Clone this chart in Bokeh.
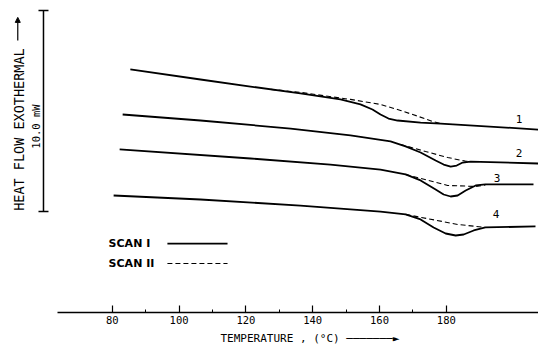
from bokeh.plotting import figure
from bokeh.models import (Range1d, FixedTicker, Whisker, TeeHead, Arrow, NormalHead,
                          Title, ColumnDataSource)
from bokeh.core.properties import value
from bokeh.embed import file_html
from bokeh.resources import INLINE

# ---------------- data ----------------
TEMP_TICKS = [80, 100, 120, 140, 160, 180]
TEMP_MINOR = [90, 110, 130, 150, 170]

# heat flow in mW (offset scale; a 10.0 mW bar is shown at left)
# curve 1
c1_scan1_t = [85.4, 106.4, 121.4, 136.3, 148.3, 154.3, 157.9, 160.3, 162.7, 165.4, 172.3, 178.3, 207.6]
c1_scan1_h = [12.09, 11.59, 11.24, 10.90, 10.60, 10.35, 10.10, 9.85, 9.65, 9.55, 9.45, 9.40, 9.10]
c1_scan2_t = [127.4, 136.3, 151.3, 160.3, 166.3, 171.7, 175.9, 178.3]
c1_scan2_h = [11.10, 10.95, 10.60, 10.35, 10.05, 9.75, 9.50, 9.40]
# curve 2
c2_scan1_t = [83.1, 106.4, 133.4, 151.3, 163.3, 167.8, 172.3, 176.8, 179.2, 181.3, 183.1, 184.9, 187.3, 207.6]
c2_scan1_h = [9.85, 9.55, 9.15, 8.81, 8.51, 8.26, 7.96, 7.56, 7.36, 7.26, 7.31, 7.46, 7.51, 7.41]
c2_scan2_t = [166.3, 173.8, 180.4, 185.7, 187.3]
c2_scan2_h = [8.36, 8.01, 7.71, 7.53, 7.51]
# curve 3
c3_scan1_t = [82.2, 121.4, 145.3, 160.3, 167.8, 172.3, 176.8, 179.2, 181.3, 183.4, 185.8, 188.8, 191.7, 206.1]
c3_scan1_h = [8.11, 7.66, 7.36, 7.11, 6.87, 6.57, 6.12, 5.87, 5.77, 5.82, 6.07, 6.32, 6.37, 6.37]
c3_scan2_t = [167.8, 180.4, 188.8, 191.7]
c3_scan2_h = [6.87, 6.32, 6.27, 6.34]
# curve 4
c4_scan1_t = [80.4, 106.4, 136.3, 160.3, 167.8, 172.3, 176.2, 179.8, 182.8, 185.2, 188.2, 191.7, 206.7]
c4_scan1_h = [5.82, 5.62, 5.32, 5.02, 4.88, 4.63, 4.23, 3.93, 3.83, 3.88, 4.08, 4.23, 4.28]
c4_scan2_t = [167.8, 183.4, 191.7]
c4_scan2_h = [4.88, 4.38, 4.23]

curve_labels = ["1", "2", "3", "4"]
curve_label_t = [201.8, 201.8, 195.2, 194.9]
curve_label_h = [9.65, 7.91, 6.67, 4.88]

SCALE_MW = 10.0

# ---------------- layout constants ----------------
X_RANGE = (46.53, 207.60)
Y_RANGE = (0.0, 15.52)
AXIS_START = 63.6
BAR_T, BAR_LO = 59.4, 5.02
FONT = "DejaVu Sans Mono"

p = figure(width=538, height=348, output_backend="svg", toolbar_location=None,
           x_range=Range1d(*X_RANGE), y_range=Range1d(*Y_RANGE),
           y_axis_location=None, min_border_left=0, min_border_right=0,
           min_border_top=0, min_border_bottom=36)
p.outline_line_color = None
p.grid.visible = False

ax = p.xaxis[0]
ax.ticker = FixedTicker(ticks=TEMP_TICKS, minor_ticks=TEMP_MINOR)
ax.bounds = (AXIS_START, X_RANGE[1])
ax.axis_line_color = "black"
ax.axis_line_width = 1.5
ax.major_tick_in = 7
ax.major_tick_out = 0
ax.minor_tick_in = 3
ax.minor_tick_out = 0
ax.major_tick_line_width = 1.2
ax.minor_tick_line_width = 1.0
ax.major_label_standoff = 3
ax.major_label_text_font = FONT
ax.major_label_text_font_size = "10.5px"
ax.major_label_text_color = "black"

# curves
solid = [(c1_scan1_t, c1_scan1_h), (c2_scan1_t, c2_scan1_h),
         (c3_scan1_t, c3_scan1_h), (c4_scan1_t, c4_scan1_h)]
dashed = [(c1_scan2_t, c1_scan2_h), (c2_scan2_t, c2_scan2_h),
          (c3_scan2_t, c3_scan2_h), (c4_scan2_t, c4_scan2_h)]
for t, h in solid:
    p.line(t, h, line_color="black", line_width=1.8, line_join="round")
for t, h in dashed:
    p.line(t, h, line_color="black", line_width=1.1, line_dash="5 3")

p.text(curve_label_t, curve_label_h, text=curve_labels, text_font=value(FONT),
       text_font_size="11px", text_align="center", text_baseline="middle",
       text_color="black")

# legend
LEG_TEXT_T, LEG_X0, LEG_X1 = 78.9, 96.5, 114.5
LEG_Y = [3.43, 2.44]
p.text([LEG_TEXT_T, LEG_TEXT_T], LEG_Y, text=["SCAN I", "SCAN II"],
       text_font=value("DejaVu Sans"), text_font_style="bold", text_font_size="11px",
       text_align="left", text_baseline="middle", text_color="black")
p.line([LEG_X0, LEG_X1], [LEG_Y[0], LEG_Y[0]], line_color="black", line_width=1.8)
p.line([LEG_X0, LEG_X1], [LEG_Y[1], LEG_Y[1]], line_color="black", line_width=1.1,
       line_dash="5 3")

# scale bar (10.0 mW)
bar_src = ColumnDataSource(dict(base=[BAR_T], lower=[BAR_LO], upper=[BAR_LO + SCALE_MW]))
p.add_layout(Whisker(source=bar_src, base="base", lower="lower", upper="upper",
                     dimension="height", line_width=1.5, line_color="black",
                     upper_head=TeeHead(size=10, line_width=1.5),
                     lower_head=TeeHead(size=10, line_width=1.5)))

# y texts
p.text([52.0], [9.10], text=["HEAT FLOW EXOTHERMAL"], angle=1.5708,
       text_font=value(FONT), text_font_size="13.5px", text_align="center",
       text_baseline="middle", text_color="black")
p.text([57.1], [9.25], text=["10.0 mW"], angle=1.5708,
       text_font=value(FONT), text_font_size="10.5px", text_align="center",
       text_baseline="middle", text_color="black")
p.add_layout(Arrow(end=NormalHead(size=5, fill_color="black", line_color="black"),
                   x_start=51.7, y_start=13.53, x_end=51.7, y_end=14.68,
                   line_width=1.2, line_color="black"))

# x axis title with arrow
p.add_layout(Title(text="TEMPERATURE , (°C) ───────►", align="left", offset=220,
                   text_font=FONT, text_font_size="11px", text_font_style="normal",
                   text_color="black", standoff=7), "below")

open("out.html", "w").write(file_html(p, INLINE))
